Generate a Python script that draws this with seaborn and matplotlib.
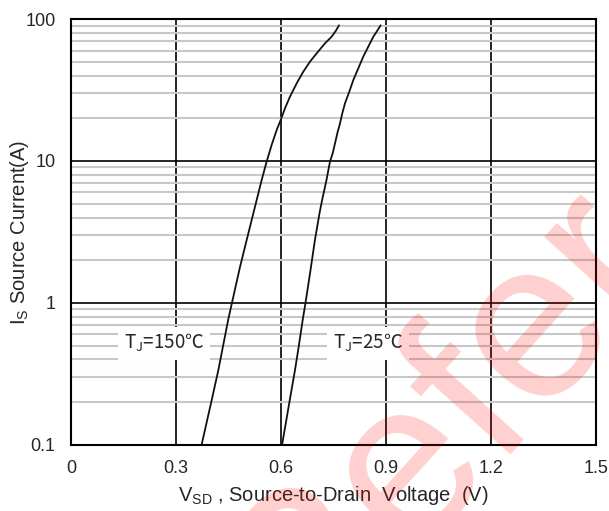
import numpy as np
import pandas as pd
import matplotlib
matplotlib.use("Agg")
import matplotlib.pyplot as plt
import seaborn as sns
from matplotlib.ticker import LogLocator, NullFormatter, FixedLocator

# Data
v_150 = [0.373, 0.402, 0.421, 0.449, 0.459, 0.483, 0.502, 0.521, 0.5305, 0.5448,
         0.559, 0.5733, 0.5876, 0.599, 0.6114, 0.6257, 0.6448, 0.6638, 0.6829,
         0.7019, 0.7257, 0.7448, 0.757, 0.7657]
i_150 = [0.1, 0.207, 0.337, 0.759, 0.98, 1.80, 2.78, 4.28, 5.31, 7.35,
         9.9, 12.97, 16.5, 19.4, 23.5, 28.4, 35.2, 42.6, 50.1,
         57.3, 67.4, 75.1, 82.8, 90.3]
v_25 = [0.603, 0.624, 0.640, 0.651, 0.662, 0.670, 0.683, 0.697, 0.710, 0.7175,
        0.730, 0.740, 0.7476, 0.7543, 0.761, 0.7686, 0.7752, 0.7829, 0.7952,
        0.8067, 0.821, 0.835, 0.8495, 0.8638, 0.8733, 0.8848]
i_25 = [0.1, 0.2, 0.337, 0.5, 0.759, 1.0, 1.62, 2.78, 4.28, 5.31,
        7.35, 9.9, 11.3, 13.3, 15.7, 18.4, 21.7, 25.5, 30.8,
        37.2, 45.0, 54.3, 63.9, 75.1, 81.4, 90.3]
x_ticks = [0, 0.3, 0.6, 0.9, 1.2, 1.5]
y_ticks = [0.1, 1, 10, 100]
y_ticklabels = ["0.1", "1", "10", "100"]

sns.set_style("white")
plt.rcParams['font.family'] = ['Liberation Sans', 'DejaVu Sans']
plt.rcParams['mathtext.fontset'] = 'custom'
plt.rcParams['mathtext.rm'] = 'Liberation Sans'

df = pd.concat([
    pd.DataFrame({"V": v_150, "I": i_150, "T": "150"}),
    pd.DataFrame({"V": v_25, "I": i_25, "T": "25"}),
])

fig = plt.figure(figsize=(6.09, 5.11), dpi=100)
ax = fig.add_axes([0.1166, 0.1292, 0.862, 0.8336])

sns.lineplot(data=df, x="V", y="I", units="T", estimator=None, sort=False,
             color="#111111", lw=1.3, ax=ax, legend=False)

ax.set_yscale("log")
ax.set_xlim(0, 1.5)
ax.set_ylim(0.1, 100)
ax.set_xticks(x_ticks)
ax.set_xticklabels([f"{t:g}" for t in x_ticks])
ax.yaxis.set_major_locator(FixedLocator(y_ticks))
ax.set_yticklabels(y_ticklabels)
ax.yaxis.set_minor_locator(LogLocator(base=10, subs=np.arange(2, 10)))
ax.yaxis.set_minor_formatter(NullFormatter())
ax.tick_params(which="both", length=0, labelsize=13, pad=11)

ax.set_axisbelow(True)
ax.grid(which="minor", axis="y", color="#c8c8c8", lw=1.5)
ax.grid(which="major", color="black", lw=1.2)
for s in ax.spines.values():
    s.set_color("black")
    s.set_linewidth(1.5)

ax.set_xlabel(r"V$_\mathrm{SD}$ , Source-to-Drain  Voltage  (V)", fontsize=14.5, labelpad=5)
ax.set_ylabel(r"I$_\mathrm{S}$ Source Current(A)", fontsize=14.5, labelpad=-4)

# curve labels: CJK family for the ℃ sign
box = dict(facecolor="white", edgecolor="none", pad=4)
ax.text(0.266, 0.52, r"T$_\mathregular{J}$=150℃", fontsize=13.5, family="Noto Sans CJK SC",
        ha="center", va="center", bbox=box)
ax.text(0.849, 0.52, r"T$_\mathregular{J}$=25℃", fontsize=13.5, family="Noto Sans CJK SC",
        ha="center", va="center", bbox=box)

# watermark
fig.text(0.489, -0.311, "Reference", rotation=48, rotation_mode="anchor",
         ha="left", va="baseline", fontsize=163, color="red", alpha=0.19, zorder=10)

fig.savefig("out.png", dpi=100)
